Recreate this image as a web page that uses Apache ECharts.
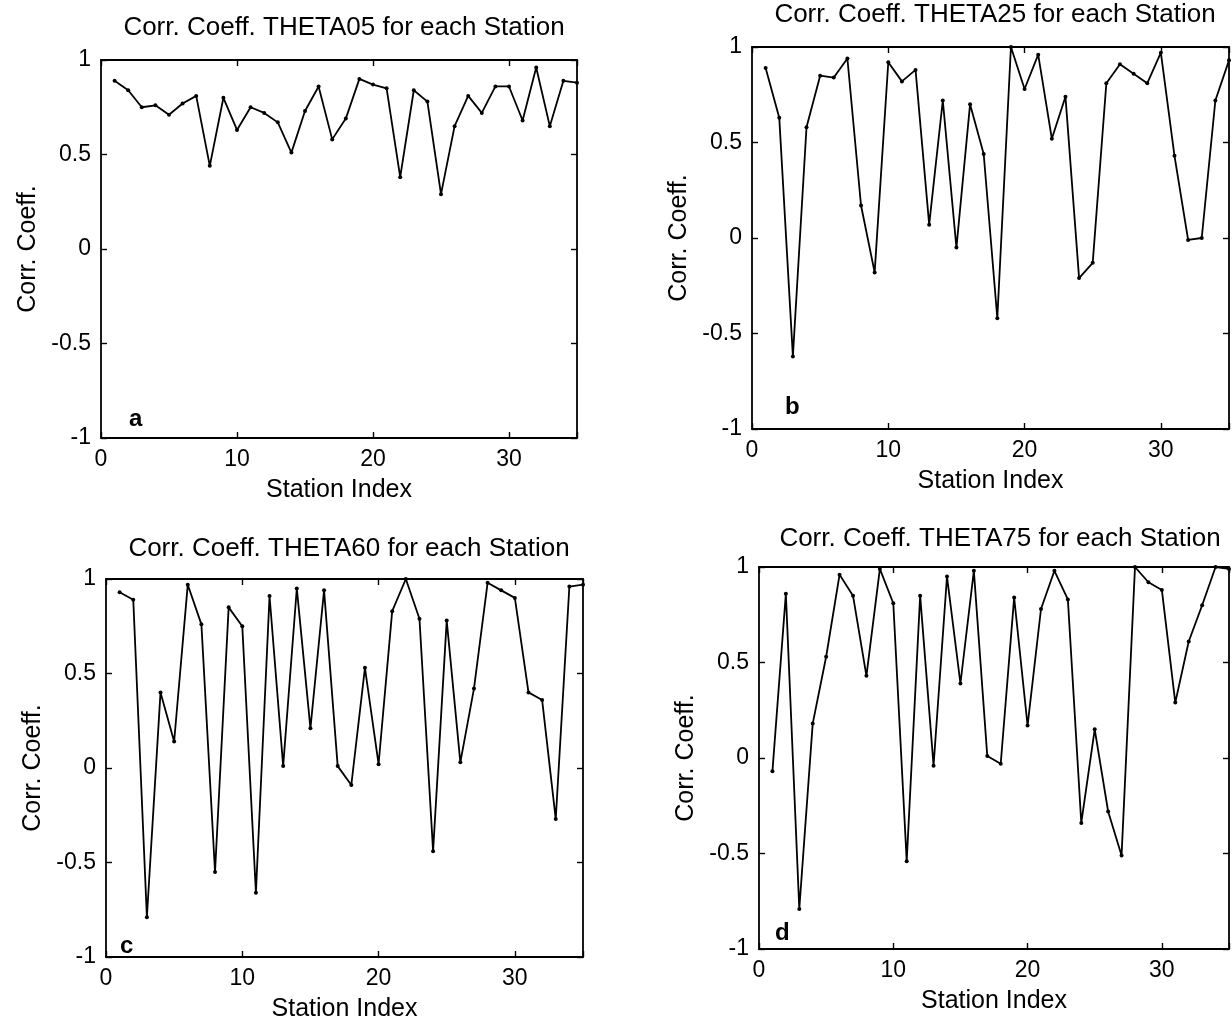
<!DOCTYPE html>
<html>
<head>
<meta charset="utf-8">
<script src="https://cdn.jsdelivr.net/npm/echarts@6/dist/echarts.min.js"></script>
<style>
html,body{margin:0;padding:0;background:#fff;}
#chart{width:1232px;height:1023px;}
</style>
</head>
<body>
<div id="chart"></div>
<script>
// ---- data ----
const stations = [1,2,3,4,5,6,7,8,9,10,11,12,13,14,15,16,17,18,19,20,21,22,23,24,25,26,27,28,29,30,31,32,33,34,35];

const theta05 = [0.89,0.84,0.75,0.76,0.71,0.77,0.81,0.44,0.80,0.63,0.75,0.72,0.67,0.51,0.73,0.86,0.58,0.69,0.90,0.87,0.85,0.38,0.84,0.78,0.29,0.65,0.81,0.72,0.86,0.86,0.68,0.96,0.65,0.89,0.88];
const theta25 = [0.89,0.63,-0.62,0.58,0.85,0.84,0.94,0.17,-0.18,0.92,0.82,0.88,0.07,0.72,-0.05,0.70,0.44,-0.42,1.00,0.78,0.96,0.52,0.74,-0.21,-0.13,0.81,0.91,0.86,0.81,0.97,0.43,-0.01,0.00,0.72,0.93];
const theta60 = [0.93,0.89,-0.79,0.40,0.14,0.97,0.76,-0.55,0.85,0.75,-0.66,0.91,0.01,0.95,0.21,0.94,0.01,-0.09,0.53,0.02,0.83,1.00,0.79,-0.44,0.78,0.03,0.42,0.98,0.94,0.90,0.40,0.36,-0.27,0.96,0.97];
const theta75 = [-0.07,0.86,-0.79,0.18,0.53,0.96,0.85,0.43,0.99,0.81,-0.54,0.85,-0.04,0.95,0.39,0.98,0.01,-0.03,0.84,0.17,0.78,0.98,0.83,-0.34,0.15,-0.28,-0.51,1.00,0.92,0.88,0.29,0.61,0.80,1.00,0.99];

const titles = ['Corr. Coeff. THETA05 for each Station','Corr. Coeff. THETA25 for each Station','Corr. Coeff. THETA60 for each Station','Corr. Coeff. THETA75 for each Station'];
const panelLetters = ['a','b','c','d'];
const xTicks = [0,10,20,30];
const yTicks = [-1,-0.5,0,0.5,1];
const xLabel = 'Station Index';
const yLabel = 'Corr. Coeff.';

// ---- layout ----
const FONT = '"Liberation Sans", Arial, Helvetica, sans-serif';
const grids = [
  {left:101, top:60,  width:476, height:378},
  {left:752, top:47,  width:477, height:382},
  {left:106, top:579, width:477, height:382},
  {left:759, top:567, width:474, height:382}
];
const titlePos = [[339,10],[990,-3],[344,531],[995,521]];
const letterPos = [[124,402],[780,390],[115,929],[770,916]];
const allSeries = [theta05, theta25, theta60, theta75];

const gridOpt = [], xAxes = [], yAxes = [], series = [], titleOpt = [];
grids.forEach((g, i) => {
  gridOpt.push({left:g.left, top:g.top, width:g.width, height:g.height, containLabel:false});
  const axLine = {show:true, onZero:false, lineStyle:{color:'#000', width:1.8}};
  const tick = {show:true, inside:true, length:6, lineStyle:{color:'#000', width:1.4}};
  // bottom x
  xAxes.push({gridIndex:i, type:'value', position:'bottom', min:0, max:35, interval:10,
    axisLine:axLine, axisTick:tick, splitLine:{show:false},
    axisLabel:{show:true, color:'#000', fontFamily:FONT, fontSize:23, margin:10,
      formatter:(v)=> (xTicks.indexOf(v)>=0 ? String(v) : '')},
    name:xLabel, nameLocation:'middle', nameGap:40,
    nameTextStyle:{color:'#000', fontFamily:FONT, fontSize:25}});
  // top x (ticks only)
  xAxes.push({gridIndex:i, type:'value', position:'top', min:0, max:35, interval:10,
    axisLine:axLine, axisTick:tick, splitLine:{show:false}, axisLabel:{show:false}});
  // left y
  yAxes.push({gridIndex:i, type:'value', position:'left', min:-1, max:1, interval:0.5,
    axisLine:axLine, axisTick:tick, splitLine:{show:false},
    axisLabel:{show:true, color:'#000', fontFamily:FONT, fontSize:23, margin:10},
    name:yLabel, nameLocation:'middle', nameGap:60,
    nameTextStyle:{color:'#000', fontFamily:FONT, fontSize:25}});
  // right y (ticks only)
  yAxes.push({gridIndex:i, type:'value', position:'right', min:-1, max:1, interval:0.5,
    axisLine:axLine, axisTick:tick, splitLine:{show:false}, axisLabel:{show:false}});

  series.push({type:'line', xAxisIndex:2*i, yAxisIndex:2*i,
    data: stations.map((s, k) => [s, allSeries[i][k]]),
    symbol:'circle', symbolSize:4, showSymbol:true,
    lineStyle:{color:'#000', width:1.8},
    itemStyle:{color:'#000'},
    clip:false, animation:false});

  titleOpt.push({text:titles[i], left:titlePos[i][0], top:titlePos[i][1], textAlign:'center',
    textStyle:{color:'#000', fontFamily:FONT, fontSize:26, fontWeight:'normal'}});
  titleOpt.push({text:panelLetters[i], left:letterPos[i][0], top:letterPos[i][1],
    textStyle:{color:'#000', fontFamily:FONT, fontSize:24, fontWeight:'bold'}});
});

const chart = echarts.init(document.getElementById('chart'), null, {renderer:'canvas'});
chart.setOption({
  backgroundColor:'#fff',
  animation:false,
  title:titleOpt,
  grid:gridOpt,
  xAxis:xAxes,
  yAxis:yAxes,
  series:series
});
</script>
</body>
</html>
